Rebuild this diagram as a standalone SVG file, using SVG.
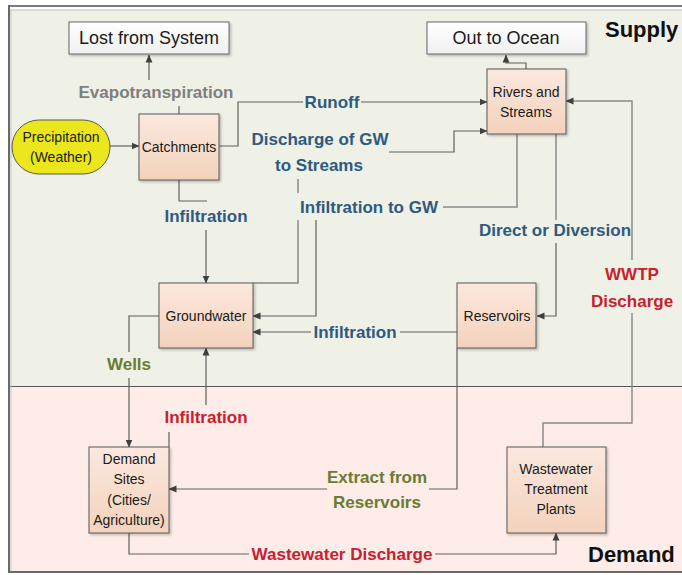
<svg xmlns="http://www.w3.org/2000/svg" width="682" height="575" viewBox="0 0 682 575">
<defs>
<linearGradient id="nodeG" x1="0" y1="0" x2="0" y2="1"><stop offset="0" stop-color="#fbe8de"/><stop offset="1" stop-color="#f4d2bc"/></linearGradient>
<linearGradient id="whiteG" x1="0" y1="0" x2="0" y2="1"><stop offset="0" stop-color="#ffffff"/><stop offset="1" stop-color="#f0f0f0"/></linearGradient>
<filter id="sh" x="-10%" y="-10%" width="130%" height="130%"><feDropShadow dx="1.5" dy="1.5" stdDeviation="1" flood-color="#000" flood-opacity="0.25"/></filter>
<marker id="arr" markerWidth="8" markerHeight="8" refX="7.5" refY="4" orient="auto" markerUnits="userSpaceOnUse"><path d="M0,0.5 L8,4 L0,7.5 z" fill="#404040"/></marker>
</defs>
<style>
.node{fill:url(#nodeG);stroke:#595959;stroke-width:1;filter:url(#sh)}
.wbox{fill:url(#whiteG);stroke:#666;stroke-width:1;filter:url(#sh)}
.nt{font-family:"Liberation Sans",Arial,sans-serif;font-size:14px;fill:#1a1a1a;text-anchor:middle}
.bt{font-family:"Liberation Sans",Arial,sans-serif;font-size:18px;fill:#1a1a1a;text-anchor:middle}
.lb{font-family:"Liberation Sans",Arial,sans-serif;font-size:17px;font-weight:bold;text-anchor:middle}
.blue{fill:#2d5a80}.red{fill:#c8202f}.green{fill:#6a7b34}.gray{fill:#7f7f7f}
.c{fill:none;stroke:#606060;stroke-width:1.2}
.c2{fill:none;stroke:#8a8a8a;stroke-width:1.5}
.ar{marker-end:url(#arr)}
.zone{font-family:"Liberation Sans",Arial,sans-serif;font-size:22px;font-weight:bold;fill:#111}
</style>
<rect x="0" y="0" width="682" height="575" fill="#ffffff"/>
<rect x="10" y="10" width="672" height="377" fill="#eff0e6"/>
<rect x="10" y="387" width="672" height="185" fill="#fdece8"/>
<line x1="10" y1="386.5" x2="682" y2="386.5" stroke="#555" stroke-width="1"/>
<line x1="8" y1="6" x2="682" y2="6" stroke="#7a7a7a" stroke-width="2"/>
<line x1="10" y1="10" x2="682" y2="10" stroke="#bdbdbd" stroke-width="1"/>
<line x1="9" y1="5" x2="9" y2="573" stroke="#6a6a6a" stroke-width="2"/>
<line x1="11" y1="10" x2="11" y2="571" stroke="#c8c8c8" stroke-width="1"/>
<line x1="8" y1="572" x2="682" y2="572" stroke="#6a6a6a" stroke-width="2"/>
<text class="zone" x="605" y="37">Supply</text>
<text class="zone" x="588" y="562">Demand</text>
<g id="connectors">
<path class="c ar" d="M110,146 H139"/>
<path class="c" d="M179,114 V106"/>
<path class="c ar" d="M149,80 V55"/>
<path class="c" d="M219,146 H238 V102 H303"/>
<path class="c ar" d="M361,102 H487"/>
<path class="c2" d="M253,283 H298 V220"/>
<path class="c2" d="M298,193 V179"/>
<path class="c ar" d="M389,152 H454 V131 H487"/>
<path class="c2" d="M517,134 V207 H443"/>
<path class="c ar" d="M316,220 V316 H253"/>
<path class="c2" d="M556,134 V220"/>
<path class="c ar" d="M556,243 V316 H537"/>
<path class="c2" d="M543,447 V423 H632 V313"/>
<path class="c2 ar" d="M632,260 V101 H566"/>
<path class="c" d="M457,332 H400"/>
<path class="c ar" d="M311,332 H253"/>
<path class="c" d="M179,180 V201 H207"/>
<path class="c ar" d="M206,230 V283"/>
<path class="c" d="M159,316 H129 V352"/>
<path class="c ar" d="M129,378 V447"/>
<path class="c" d="M169,447 V432"/>
<path class="c ar" d="M206,405 V348"/>
<path class="c" d="M457,348 V489 H429"/>
<path class="c ar" d="M327,489 H169"/>
<path class="c" d="M129,533 V554 H249"/>
<path class="c ar" d="M435,554 H556 V533"/>
<path class="c ar" d="M526,69 V63 H506 V55"/>
</g>
<g id="labels">
<text class="lb gray" x="156" y="98">Evapotranspiration</text>
<text class="lb blue" x="332" y="108">Runoff</text>
<text class="lb blue" x="320" y="145">Discharge of GW</text>
<text class="lb blue" x="319" y="171">to Streams</text>
<text class="lb blue" x="206" y="222">Infiltration</text>
<text class="lb blue" x="369" y="213">Infiltration to GW</text>
<text class="lb blue" x="555" y="236">Direct or Diversion</text>
<text class="lb red" x="632" y="280">WWTP</text>
<text class="lb red" x="632" y="307">Discharge</text>
<text class="lb blue" x="355" y="338">Infiltration</text>
<text class="lb green" x="129" y="370">Wells</text>
<text class="lb red" x="206" y="423">Infiltration</text>
<text class="lb green" x="377" y="483">Extract from</text>
<text class="lb green" x="377" y="508">Reservoirs</text>
<text class="lb red" x="342" y="560">Wastewater Discharge</text>
</g>
<g id="lost"><rect class="wbox" x="69" y="22" width="160" height="32"/><text class="bt" x="149" y="44">Lost from System</text></g>
<g id="ocean"><rect class="wbox" x="427" y="22" width="159" height="32"/><text class="bt" x="506" y="44">Out to Ocean</text></g>
<g id="precipitation"><rect x="12" y="120" width="98" height="54" rx="27" ry="27" fill="#ece71c" stroke="#595959" stroke-width="1"/><text class="nt" x="61" y="142">Precipitation</text><text class="nt" x="61" y="162">(Weather)</text></g>
<g id="catchments"><rect class="node" x="139" y="114" width="80" height="66"/><text class="nt" x="179" y="152">Catchments</text></g>
<g id="rivers"><rect class="node" x="487" y="69" width="79" height="65"/><text class="nt" x="526" y="97">Rivers and</text><text class="nt" x="526" y="117">Streams</text></g>
<g id="groundwater"><rect class="node" x="159" y="283" width="94" height="65"/><text class="nt" x="206" y="321">Groundwater</text></g>
<g id="reservoirs"><rect class="node" x="457" y="283" width="79" height="65"/><text class="nt" x="497" y="321">Reservoirs</text></g>
<g id="demand"><rect class="node" x="89" y="447" width="80" height="86"/><text class="nt" x="129" y="464">Demand</text><text class="nt" x="129" y="484">Sites</text><text class="nt" x="129" y="505">(Cities/</text><text class="nt" x="129" y="525">Agriculture)</text></g>
<g id="wwtp"><rect class="node" x="507" y="447" width="99" height="86"/><text class="nt" x="556" y="474">Wastewater</text><text class="nt" x="556" y="494">Treatment</text><text class="nt" x="556" y="514">Plants</text></g>
</svg>
